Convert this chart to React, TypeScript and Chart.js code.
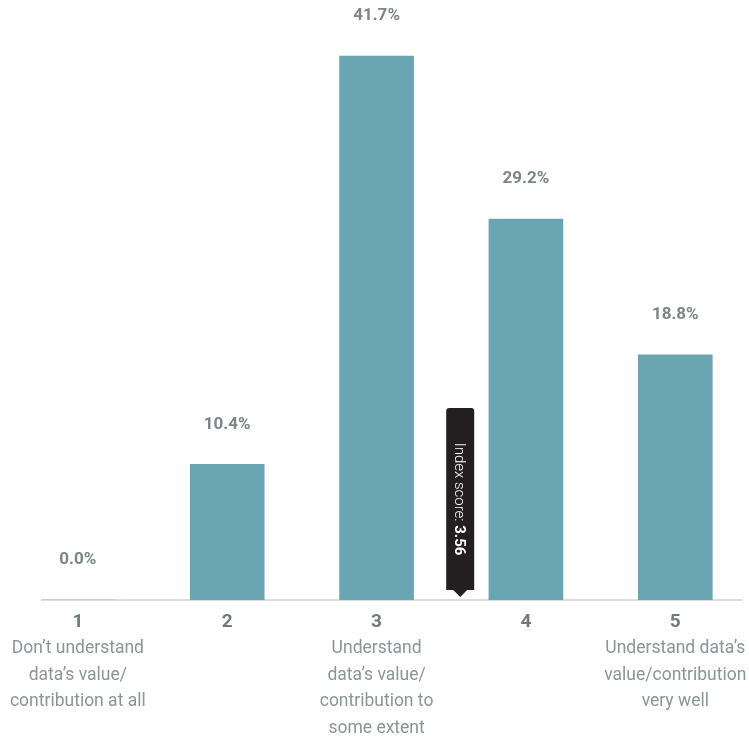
import React, { useEffect, useRef } from "react";
import { Chart, registerables } from "chart.js";

Chart.register(...registerables);

const categories = [1, 2, 3, 4, 5];
const values = [0.0, 10.4, 41.7, 29.2, 18.8];
const valueLabels = ["0.0%", "10.4%", "41.7%", "29.2%", "18.8%"];
const categoryNumbers = ["1", "2", "3", "4", "5"];
const categoryDescriptions: string[][] = [
  ["Don\u2019t understand", "data\u2019s value/", "contribution at all"],
  [],
  ["Understand", "data\u2019s value/", "contribution to", "some extent"],
  [],
  ["Understand data\u2019s", "value/contribution", "very well"],
];
const indexScore = 3.56;
const indexLabel = "Index score: ";
const indexValueLabel = "3.56";

const FONT = "Roboto, 'Liberation Sans', sans-serif";

const overlayPlugin = {
  id: "overlay",
  afterDatasetsDraw(chart: any) {
    const ctx = chart.ctx as CanvasRenderingContext2D;
    const xScale = chart.scales.x;
    const area = chart.chartArea;
    const meta = chart.getDatasetMeta(0);
    ctx.save();
    // value labels
    ctx.textAlign = "center";
    ctx.textBaseline = "middle";
    ctx.fillStyle = "#7b8686";
    ctx.font = `bold 17px ${FONT}`;
    meta.data.forEach((bar: any, i: number) => {
      ctx.fillText(valueLabels[i], bar.x, bar.y - 40);
    });
    // category labels
    categories.forEach((c, i) => {
      const x = xScale.getPixelForValue(c);
      ctx.fillStyle = "#6f7b7b";
      ctx.font = `bold 19px ${FONT}`;
      ctx.fillText(categoryNumbers[i], x, area.bottom + 22);
      ctx.fillStyle = "#8a9595";
      ctx.font = `17.5px ${FONT}`;
      categoryDescriptions[i].forEach((line, j) => {
        ctx.fillText(line, x, area.bottom + 49 + j * 26.5);
      });
    });
    // index score marker
    const mx = xScale.getPixelForValue(indexScore);
    const boxW = 28;
    const boxH = 182;
    const bottom = area.bottom - 10;
    const top = bottom - boxH;
    const r = 3;
    ctx.fillStyle = "#231f20";
    ctx.beginPath();
    ctx.moveTo(mx - boxW / 2 + r, top);
    ctx.lineTo(mx + boxW / 2 - r, top);
    ctx.quadraticCurveTo(mx + boxW / 2, top, mx + boxW / 2, top + r);
    ctx.lineTo(mx + boxW / 2, bottom);
    ctx.lineTo(mx + 7, bottom);
    ctx.lineTo(mx, bottom + 7);
    ctx.lineTo(mx - 7, bottom);
    ctx.lineTo(mx - boxW / 2, bottom);
    ctx.lineTo(mx - boxW / 2, top + r);
    ctx.quadraticCurveTo(mx - boxW / 2, top, mx - boxW / 2 + r, top);
    ctx.closePath();
    ctx.fill();
    ctx.translate(mx, (top + bottom) / 2);
    ctx.rotate(Math.PI / 2);
    ctx.fillStyle = "#ffffff";
    ctx.textAlign = "left";
    ctx.font = `300 15px ${FONT}`;
    const w1 = ctx.measureText(indexLabel).width;
    ctx.font = `bold 15px ${FONT}`;
    const w2 = ctx.measureText(indexValueLabel).width;
    const start = -(w1 + w2) / 2;
    ctx.font = `300 15px ${FONT}`;
    ctx.fillText(indexLabel, start, 1);
    ctx.font = `bold 15px ${FONT}`;
    ctx.fillText(indexValueLabel, start + w1, 1);
    ctx.restore();
  },
};

export default function App() {
  const ref = useRef<HTMLCanvasElement>(null);
  useEffect(() => {
    document.body.style.margin = "0";
    if (!ref.current) return;
    const chart = new Chart(ref.current, {
      type: "bar",
      data: {
        datasets: [
          {
            data: categories.map((c, i) => ({ x: c, y: values[i] })),
            backgroundColor: "#6aa6b2",
            barThickness: 74,
            borderWidth: 0,
          },
        ],
      },
      options: {
        animation: false,
        responsive: false,
        maintainAspectRatio: false,
        devicePixelRatio: 1,
        layout: { padding: { left: 42, right: 8, top: 13, bottom: 137 } },
        plugins: { legend: { display: false }, tooltip: { enabled: false } },
        scales: {
          x: {
            type: "linear",
            min: 0.76,
            max: 5.44,
            offset: false,
            ticks: { display: false },
            grid: { display: false, drawTicks: false, offset: false },
            border: { display: true, color: "#dcdfdf", width: 2 },
          },
          y: {
            display: false,
            min: 0,
            max: 45,
          },
        },
      },
      plugins: [overlayPlugin],
    });
    return () => chart.destroy();
  }, []);
  return (
    <div style={{ width: 749, height: 737 }}>
      <canvas ref={ref} width={749} height={737} style={{ display: "block" }} />
    </div>
  );
}
